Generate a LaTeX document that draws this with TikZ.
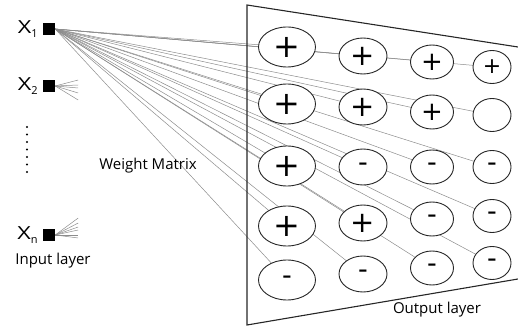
\documentclass[tikz,border=0pt]{standalone}
\usepackage{fontspec}
\setmainfont{Open Sans}
\newfontfamily\signfont{DejaVu Sans}
\usetikzlibrary{positioning,shapes.geometric,backgrounds}

\newcommand{\psign}[1]{{\signfont\fontsize{#1}{#1}\selectfont +}}
\newcommand{\nsign}{{\signfont\fontsize{27}{27}\selectfont -}}
\newcommand{\inx}[1]{\scalebox{1.3}[1]{X}\raisebox{-0.35ex}{\fontsize{11}{12}\selectfont #1}}

\tikzset{
  neuron/.style={ellipse, draw=black!85, fill=white, line width=0.9pt, inner sep=0pt},
  colA/.style={neuron, minimum width=57pt, minimum height=40pt},
  colB/.style={neuron, minimum width=48pt, minimum height=36pt},
  colC/.style={neuron, minimum width=43pt, minimum height=34pt},
  colD/.style={neuron, minimum width=38pt, minimum height=33pt},
  inbox/.style={rectangle, fill=black, minimum size=12pt, inner sep=0pt},
  wire/.style={draw=black!45, line width=0.5pt},
  lbl/.style={font=\fontsize{15}{18}\selectfont},
  xlbl/.style={font=\fontsize{18}{22}\selectfont, inner sep=0pt}
}

\begin{document}
\begin{tikzpicture}[x=1pt, y=-1pt]
  \useasboundingbox (0,0) rectangle (518,328);
  % output layer frame
  \draw[line width=1.1pt, black!85] (518,47) -- (247,5) -- (247,325) -- (518,279);

  % inputs
  \node[inbox] (x1) at (49,29) {};
  \node[inbox] (x2) at (49,86) {};
  \node[inbox] (xn) at (49,235) {};
  \node[xlbl, left=5pt of x1] (lx1) {\inx{1}};
  \node[xlbl, left=5pt of x2] (lx2) {\inx{2}};
  \node[xlbl, left=5pt of xn] (lxn) {\inx{n}};
  \foreach \y in {127,134.5,...,173} \fill (27,\y) circle (1.2pt);

  % output neurons
  \node[colA] (r1c1) at (287,47)  {\psign{32}};
  \node[colB] (r1c2) at (363,56)  {\psign{29}};
  \node[colC] (r1c3) at (432,62)  {\psign{26}};
  \node[colD] (r1c4) at (492,67)  {\psign{22}};
  \node[colA] (r2c1) at (287,104) {\psign{32}};
  \node[colB] (r2c2) at (363,107) {\psign{29}};
  \node[colC] (r2c3) at (432,112) {\psign{26}};
  \node[colD] (r2c4) at (492,115) {};
  \node[colA] (r3c1) at (287,166) {\psign{32}};
  \node[colB] (r3c2) at (363,167) {\nsign};
  \node[colC] (r3c3) at (432,167) {\nsign};
  \node[colD] (r3c4) at (492,167) {\nsign};
  \node[colA] (r4c1) at (287,226) {\psign{32}};
  \node[colB] (r4c2) at (363,223) {\psign{29}};
  \node[colC] (r4c3) at (432,219) {\nsign};
  \node[colD] (r4c4) at (492,216) {\nsign};
  \node[colA] (r5c1) at (287,280) {\nsign};
  \node[colB] (r5c2) at (363,274) {\nsign};
  \node[colC] (r5c3) at (432,268) {\nsign};
  \node[colD] (r5c4) at (492,263) {\nsign};

  % weights
  \begin{scope}[on background layer]
    \foreach \r in {1,...,5}
      \foreach \c in {1,...,4}
        \draw[wire] (x1.east) -- (r\r c\c.center);
    \foreach \dy in {-6,-1,2,7,14}
      \draw[wire] (x2.east) -- ++(23,\dy);
    \foreach \dy in {-17,-12,-8,-5,0,3}
      \draw[wire] (xn.east) -- ++(23,\dy);
  \end{scope}

  \node[lbl] (wm) at (148,166) {Weight Matrix};
  \node[lbl] (il) at (53,261) {Input layer};
  \node[lbl] (ol) at (437,310) {Output layer};
\end{tikzpicture}
\end{document}
